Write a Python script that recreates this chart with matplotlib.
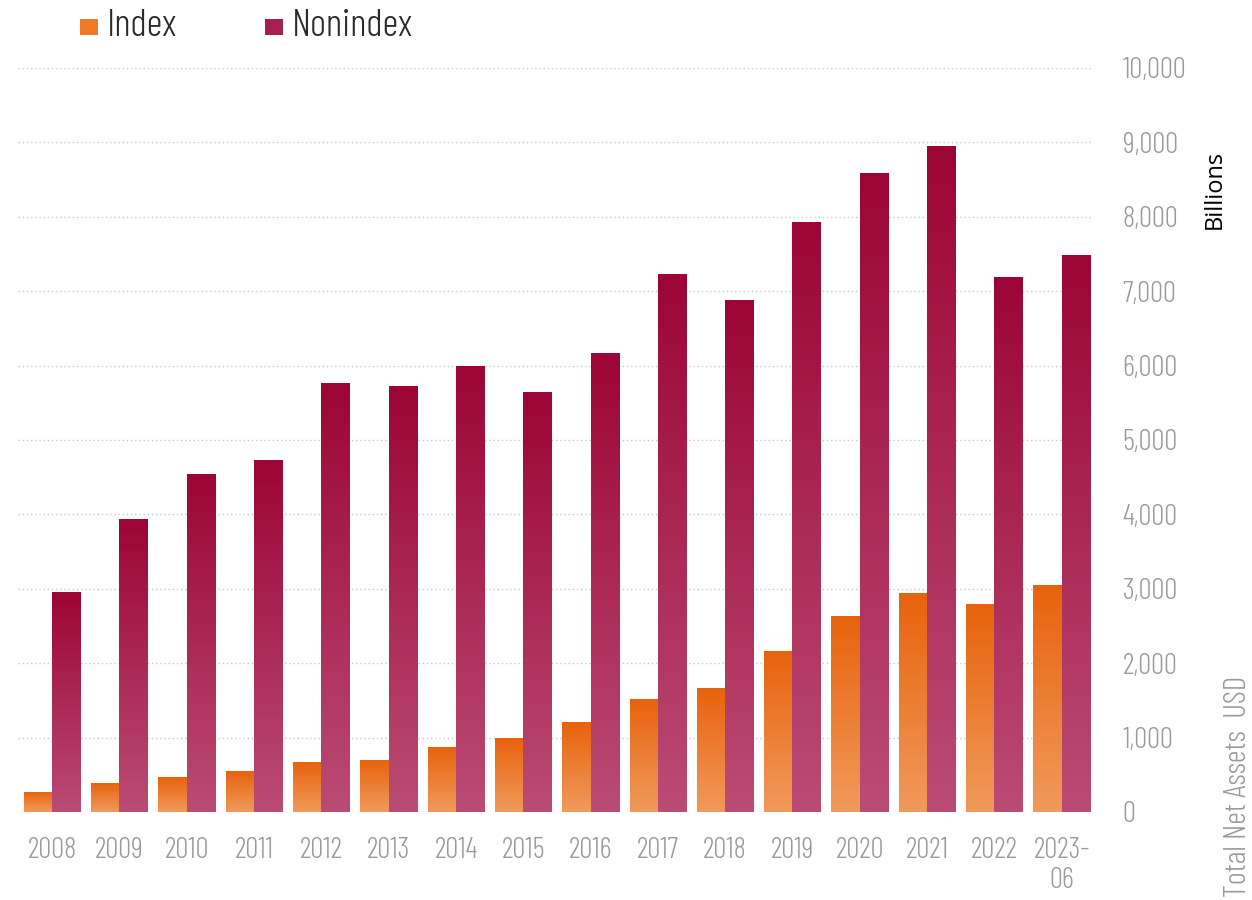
import numpy as np
import matplotlib
matplotlib.use('Agg')
import matplotlib.pyplot as plt
from matplotlib.colors import LinearSegmentedColormap
from matplotlib.patches import Rectangle

years = ['2008', '2009', '2010', '2011', '2012', '2013', '2014', '2015',
         '2016', '2017', '2018', '2019', '2020', '2021', '2022', '2023-\n06']
index_vals = [270, 390, 470, 550, 670, 700, 875, 995,
              1210, 1520, 1665, 2165, 2635, 2945, 2795, 3050]
nonindex_vals = [2960, 3940, 4540, 4730, 5765, 5725, 5995, 5645,
                 6170, 7230, 6880, 7930, 8590, 8950, 7190, 7485]
yticks = list(range(0, 10001, 1000))

narrow = ['Barlow Condensed', 'DejaVu Sans']
gray = '#9a9a9a'

idx_top, idx_bot = '#e8620c', '#f09a5c'
non_top, non_bot = '#9c0535', '#ba4c75'

fig = plt.figure(figsize=(12.52, 9), dpi=100)
ax = fig.add_axes([18/1252, 1-812/900, (1092-18)/1252, (812-68)/900])

x = np.arange(len(years))
w = 0.42

def grad_bars(bars, c_top, c_bot):
    cmap = LinearSegmentedColormap.from_list('g', [c_bot, c_top])
    grad = np.linspace(0, 1, 256).reshape(-1, 1)
    for p in bars:
        x0, y0 = p.get_xy()
        im = ax.imshow(grad, extent=[x0, x0 + p.get_width(), y0, y0 + p.get_height()],
                       origin='lower', aspect='auto', cmap=cmap, zorder=2)
        im.set_clip_path(p)
        p.set_facecolor('none')
        p.set_edgecolor('none')

b1 = ax.bar(x - w/2, index_vals, width=w, zorder=2)
b2 = ax.bar(x + w/2, nonindex_vals, width=w, zorder=2)
grad_bars(b1, idx_top, idx_bot)
grad_bars(b2, non_top, non_bot)

for t in yticks:
    ax.axhline(t, color='#c8c8c8', lw=1, ls=(0, (1, 2)), zorder=0)

ax.set_xlim(-0.505, 15.45)
ax.set_ylim(0, 10000)
for s in ax.spines.values():
    s.set_visible(False)

ax.yaxis.tick_right()
ax.set_yticks(yticks)
ax.set_yticklabels([f'{t:,}' for t in yticks], family=narrow, weight=300, fontsize=21, color=gray)
ax.set_xticks(x)
ax.set_xticklabels(years, family=narrow, weight=300, fontsize=21, color=gray, linespacing=1.15, va='top')
ax.tick_params(axis='both', length=0)
ax.tick_params(axis='y', pad=22)
ax.tick_params(axis='x', pad=18)

fig.text(1215/1252, 1-189/900, 'Billions', rotation=90, ha='center', va='center',
         fontsize=17, family='Open Sans', color='black')
fig.text(1238/1252, 1-897/900, 'Total Net Assets  USD', rotation=90, ha='center', va='bottom',
         fontsize=22.5, family=narrow, weight=300, color=gray)

# legend
fig.patches.append(Rectangle((80/1252, 1-35/900), 18/1252, 16/900, transform=fig.transFigure,
                             facecolor='#ee7a2a', edgecolor='none'))
fig.text(107/1252, 1-27/900, 'Index', ha='left', va='center', fontsize=28, family=narrow,
         weight=300, color='#2a2a2a')
fig.patches.append(Rectangle((265/1252, 1-35/900), 18/1252, 16/900, transform=fig.transFigure,
                             facecolor='#a5204e', edgecolor='none'))
fig.text(292/1252, 1-27/900, 'Nonindex', ha='left', va='center', fontsize=28, family=narrow,
         weight=300, color='#2a2a2a')

fig.savefig('out.png', dpi=100)
